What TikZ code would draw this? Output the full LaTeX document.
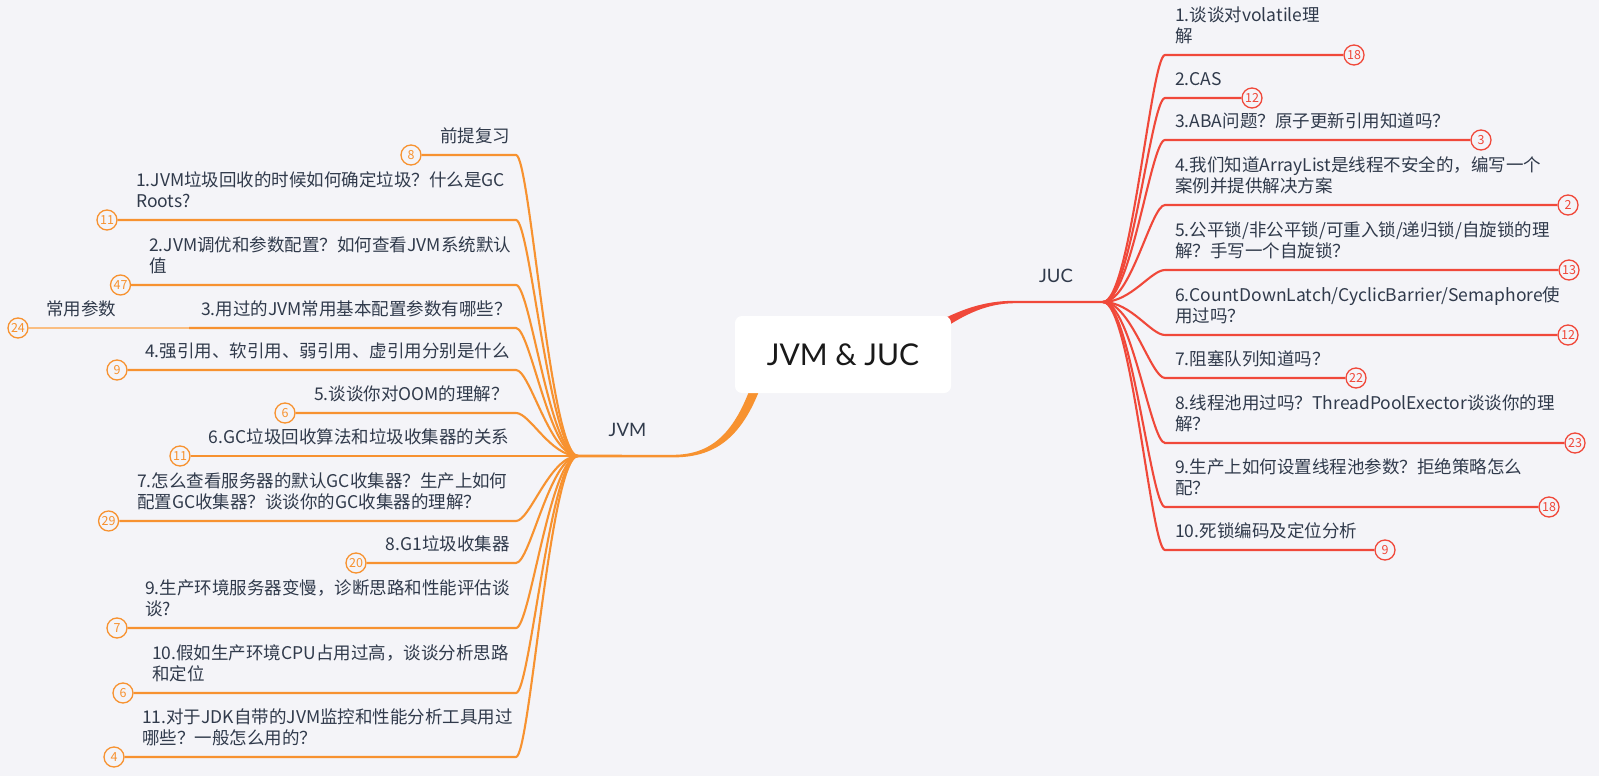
\documentclass[tikz,border=0pt]{standalone}
\usepackage{fontspec}
\setmainfont{Noto Sans CJK SC}
\newfontfamily\latofont{Lato}
\definecolor{bgc}{RGB}{244,244,248}
\definecolor{jvmc}{RGB}{247,146,48}
\definecolor{jvml}{RGB}{250,190,130}
\definecolor{jucc}{RGB}{240,72,58}
\definecolor{txt}{RGB}{48,58,75}
\pgfdeclarelayer{back}
\pgfdeclarelayer{conn}
\pgfsetlayers{back,conn,main}
\begin{document}
\begin{tikzpicture}[x=1pt,y=-1pt,
  ltxt/.style={anchor=south west, inner sep=0pt, text depth=0pt, align=left, text=txt, font=\fontsize{17.5}{21.7}\selectfont},
  ocirc/.style={circle, draw=jvmc, fill=bgc, line width=1.3pt, minimum size=20pt, inner sep=0pt, text=jvmc, font=\fontsize{12.5}{12.5}\selectfont},
  rcirc/.style={circle, draw=jucc, fill=bgc, line width=1.3pt, minimum size=20pt, inner sep=0pt, text=jucc, font=\fontsize{12.5}{12.5}\selectfont},
  oline/.style={draw=jvmc, line width=2.1pt},
  lline/.style={draw=jvml, line width=1.8pt},
  rline/.style={draw=jucc, line width=2.1pt},
  lab/.style={inner sep=0pt, text=txt, font=\latofont\fontsize{18.5}{20}\selectfont}
]
\begin{pgfonlayer}{back}
\fill[bgc] (0,0) rectangle (1599,776);
\end{pgfonlayer}
\useasboundingbox (0,0) rectangle (1599,776);

% root
\node[fill=white, rounded corners=7pt, minimum width=216pt, minimum height=77pt, inner sep=0pt,
      font=\latofont\fontsize{30}{30}\selectfont, text=black!90] (root) at (843,354.5) {JVM \& JUC};

\node[lab] (jvmlab) at (627.5,430) {JVM};
\node[lab] (juclab) at (1056,276) {JUC};

\coordinate (jl) at (578,456);
\coordinate (jr) at (1103,302);
\coordinate (kL) at (516,0);
\coordinate (kL2) at (530,0);
\coordinate (kR) at (1165,0);
\coordinate (kR2) at (1151,0);

% JVM children
\node[ltxt] (tP) at (440,143) {前提复习};
\node[ocirc] (cP) at (411,155) {8};
\node[ltxt] (t1) at (136,208) {1.JVM垃圾回收的时候如何确定垃圾？什么是GC\\Roots?};
\node[ocirc] (c1) at (107,220) {11};
\node[ltxt] (t2) at (149,273) {2.JVM调优和参数配置？如何查看JVM系统默认\\值};
\node[ocirc] (c2) at (120.5,285) {47};
\node[ltxt] (t3) at (201,316) {3.用过的JVM常用基本配置参数有哪些？};
\coordinate (s3) at (189,328);
\node[ltxt] (t24) at (46,316) {常用参数};
\node[ocirc] (c24) at (18,328) {24};
\node[ltxt] (t4) at (145,358) {4.强引用、软引用、弱引用、虚引用分别是什么};
\node[ocirc] (c4) at (117,370) {9};
\node[ltxt] (t5) at (314,401) {5.谈谈你对OOM的理解？};
\node[ocirc] (c5) at (285,413) {6};
\node[ltxt] (t6) at (208.5,444) {6.GC垃圾回收算法和垃圾收集器的关系};
\node[ocirc] (c6) at (180,456) {11};
\node[ltxt] (t7) at (137,509) {7.怎么查看服务器的默认GC收集器？生产上如何\\配置GC收集器？谈谈你的GC收集器的理解？};
\node[ocirc] (c7) at (108.6,521) {29};
\node[ltxt] (t8) at (385.6,551) {8.G1垃圾收集器};
\node[ocirc] (c8) at (356,563) {20};
\node[ltxt] (t9) at (145,616) {9.生产环境服务器变慢，诊断思路和性能评估谈\\谈?};
\node[ocirc] (c9) at (117,628) {7};
\node[ltxt] (t10) at (152,681) {10.假如生产环境CPU占用过高，谈谈分析思路\\和定位};
\node[ocirc] (c10) at (123,693) {6};
\node[ltxt] (t11) at (142,745) {11.对于JDK自带的JVM监控和性能分析工具用过\\哪些？一般怎么用的？};
\node[ocirc] (c11) at (114,757) {4};

% JUC children
\node[ltxt] (u1) at (1175,43) {1.谈谈对volatile理\\解};
\node[rcirc] (d1) at (1354,55) {18};
\node[ltxt] (u2) at (1175,86) {2.CAS};
\node[rcirc] (d2) at (1252,98) {12};
\node[ltxt] (u3) at (1175,128) {3.ABA问题？原子更新引用知道吗？};
\node[rcirc] (d3) at (1481,140) {3};
\node[ltxt] (u4) at (1175,193) {4.我们知道ArrayList是线程不安全的，编写一个\\案例并提供解决方案};
\node[rcirc] (d4) at (1568,205) {2};
\node[ltxt] (u5) at (1175,258) {5.公平锁/非公平锁/可重入锁/递归锁/自旋锁的理\\解？手写一个自旋锁？};
\node[rcirc] (d5) at (1569,270) {13};
\node[ltxt] (u6) at (1175,323) {6.CountDownLatch/CyclicBarrier/Semaphore使\\用过吗？};
\node[rcirc] (d6) at (1568,335) {12};
\node[ltxt] (u7) at (1175,366) {7.阻塞队列知道吗？};
\node[rcirc] (d7) at (1356,378) {22};
\node[ltxt] (u8) at (1175,431) {8.线程池用过吗？ThreadPoolExector谈谈你的理\\解？};
\node[rcirc] (d8) at (1575,443) {23};
\node[ltxt] (u9) at (1175,495) {9.生产上如何设置线程池参数？拒绝策略怎么\\配？};
\node[rcirc] (d9) at (1549,507) {18};
\node[ltxt] (u10) at (1175,538) {10.死锁编码及定位分析};
\node[rcirc] (d10) at (1385,550) {9};

\begin{pgfonlayer}{conn}
% main branches (tapered)
\fill[jvmc] (761,386) .. controls (741,440) and (713,457.4) .. (673,457.4) -- ([yshift=-1.3pt]jl)
  -- ([yshift=1.3pt]jl) -- (673,454.8) .. controls (709,454.8) and (733,436) .. (751,386) -- cycle;
\fill[jucc] (930,326) .. controls (960,309) and (985,300.8) .. (1014,300.8) -- ([yshift=1.2pt]jr)
  -- ([yshift=-1.2pt]jr) -- (1014,303.2) .. controls (988,303.6) and (965,313) .. (936,334) -- cycle;
% JVM sub branches
\foreach \c in {cP,c1,c2,c4,c5,c6,c7,c8,c9,c10,c11}
  \draw[oline] (jl) .. controls ([xshift=-28pt]jl) and (\c -| kL2) .. (\c -| kL) -- (\c.east);
\draw[oline] (jl) .. controls ([xshift=-28pt]jl) and (s3 -| kL2) .. (s3 -| kL) -- (s3);
\draw[lline] (s3) -- (c24.east);
% JUC sub branches
\foreach \c in {d1,d2,d3,d4,d5,d6,d7,d8,d9,d10}
  \draw[rline] (jr) .. controls ([xshift=28pt]jr) and (\c -| kR2) .. (\c -| kR) -- (\c.west);
\end{pgfonlayer}
\end{tikzpicture}
\end{document}
